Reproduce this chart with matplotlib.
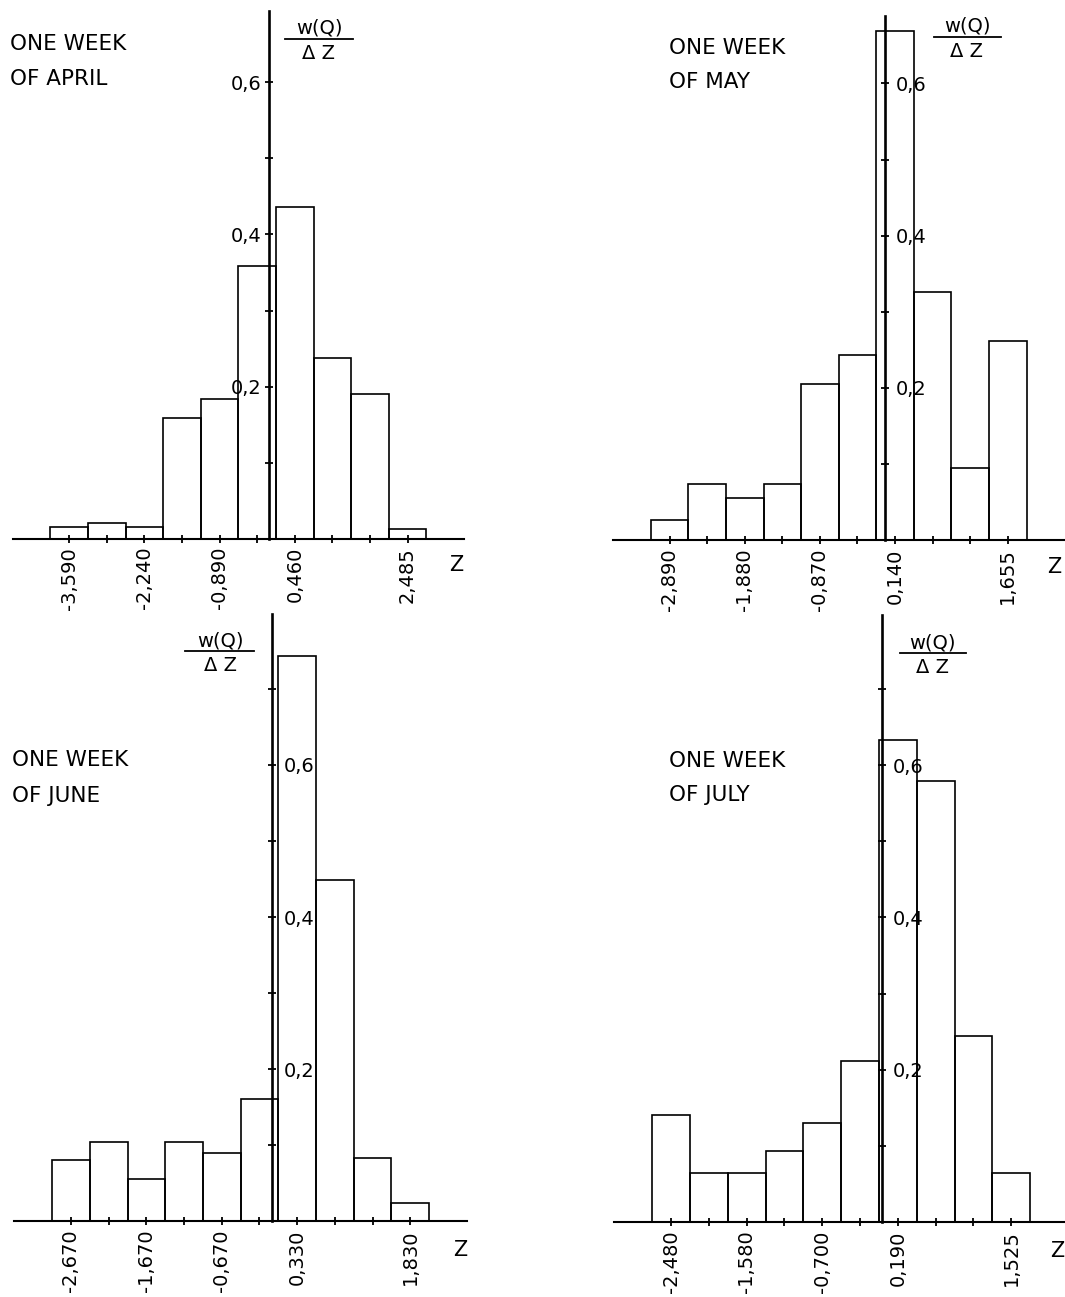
import matplotlib
matplotlib.use('Agg')
import matplotlib.pyplot as plt
from matplotlib.lines import Line2D
import numpy as np

# bin centres Z and heights w(Q)/dZ
april_z = [-3.590, -2.915, -2.240, -1.565, -0.890, -0.215, 0.460, 1.135, 1.810, 2.485]
april_w = [0.015, 0.021, 0.015, 0.158, 0.184, 0.358, 0.436, 0.238, 0.190, 0.012]
april_labels = ['-3,590', '', '-2,240', '', '-0,890', '', '0,460', '', '', '2,485']

may_z = [-2.890, -2.385, -1.880, -1.375, -0.870, -0.365, 0.140, 0.645, 1.150, 1.655]
may_w = [0.026, 0.073, 0.055, 0.073, 0.205, 0.243, 0.669, 0.326, 0.095, 0.262]
may_labels = ['-2,890', '', '-1,880', '', '-0,870', '', '0,140', '', '', '1,655']

june_z = [-2.670, -2.170, -1.670, -1.170, -0.670, -0.170, 0.330, 0.830, 1.330, 1.830]
june_w = [0.080, 0.104, 0.055, 0.104, 0.090, 0.161, 0.743, 0.449, 0.083, 0.024]
june_labels = ['-2,670', '', '-1,670', '', '-0,670', '', '0,330', '', '', '1,830']

july_z = [-2.480, -2.035, -1.590, -1.145, -0.700, -0.255, 0.190, 0.635, 1.080, 1.525]
july_w = [0.141, 0.064, 0.065, 0.094, 0.130, 0.212, 0.633, 0.579, 0.245, 0.065]
july_labels = ['-2,480', '', '-1,580', '', '-0,700', '', '0,190', '', '', '1,525']

y_major = [0.2, 0.4, 0.6]
y_major_labels = ['0,2', '0,4', '0,6']
y_minor_top = [0.1, 0.3, 0.5]
y_minor_bottom = [0.1, 0.3, 0.5, 0.7]

W, H = 1065, 1297
plt.rcParams['font.family'] = ['DejaVu Sans']

fig = plt.figure(figsize=(W / 100, H / 100), dpi=100)
fig.patch.set_facecolor('white')


def fx(x):
    return x / W


def fy(y):
    return 1 - y / H


# x0/sx: pixel of Z=0 and px per unit Z; y0/sy: pixel of w=0 and px per unit w
panels = [
    dict(z=april_z, w=april_w, labels=april_labels, minor=y_minor_top,
         title=('ONE WEEK', 'OF APRIL'), x0=269.2, sx=55.7, y0=538.5, sy=760,
         ytop=0.694, side='left', tx=10, ty=(50, 85),
         fr=(319, 285, 353, 39), zl=(456, 565)),
    dict(z=may_z, w=may_w, labels=may_labels, minor=y_minor_top,
         title=('ONE WEEK', 'OF MAY'), x0=884.6, sx=74.4, y0=540, sy=761,
         ytop=0.689, side='right', tx=669, ty=(54, 88),
         fr=(967, 934, 1001, 37), zl=(1054, 567)),
    dict(z=june_z, w=june_w, labels=june_labels, minor=y_minor_bottom,
         title=('ONE WEEK', 'OF JUNE'), x0=272.3, sx=75.4, y0=1221.3, sy=760.5,
         ytop=0.798, side='right', tx=12, ty=(766, 802),
         fr=(220, 185, 254, 651), zl=(460, 1250)),
    dict(z=july_z, w=july_w, labels=july_labels, minor=y_minor_bottom,
         title=('ONE WEEK', 'OF JULY'), x0=881.7, sx=84.9, y0=1222.2, sy=762,
         ytop=0.797, side='right', tx=669, ty=(767, 801),
         fr=(932, 900, 966, 653), zl=(1057, 1251)),
]

for p in panels:
    ax = fig.add_axes([0, 0, 1, 1])
    ax.patch.set_visible(False)
    ax.set_xlim(-p['x0'] / p['sx'], (W - p['x0']) / p['sx'])
    ax.set_ylim((p['y0'] - H) / p['sy'], p['y0'] / p['sy'])

    z = np.array(p['z'])
    dz = np.diff(z).mean()
    ax.bar(z, p['w'], width=dz, facecolor='none', edgecolor='black', linewidth=1.2)

    ax.spines['top'].set_visible(False)
    ax.spines['bottom'].set_position(('data', 0))
    ax.spines['bottom'].set_bounds(z[0] - 1.5 * dz, z[-1] + 1.5 * dz)
    ax.spines['bottom'].set_linewidth(1.5)
    if p['side'] == 'left':
        ax.spines['right'].set_visible(False)
        ysp = ax.spines['left']
        ax.yaxis.tick_left()
        ypad = 2.5
    else:
        ax.spines['left'].set_visible(False)
        ysp = ax.spines['right']
        ax.yaxis.tick_right()
        ypad = 5
    ysp.set_position(('data', 0))
    ysp.set_bounds(0, p['ytop'])
    ysp.set_linewidth(1.9)

    ax.set_xticks(z)
    ax.set_xticklabels(p['labels'], rotation=90, fontsize=14)
    ax.tick_params(axis='x', direction='inout', length=6, width=1.3, pad=3)

    ax.set_yticks(y_major)
    ax.set_yticklabels(y_major_labels, fontsize=14)
    ax.set_yticks(p['minor'], minor=True)
    ax.tick_params(axis='y', which='both', direction='inout', length=6, width=1.3, pad=ypad)

    # panel title, two lines
    fig.text(fx(p['tx']), fy(p['ty'][0]), p['title'][0], fontsize=15.5, va='baseline', ha='left')
    fig.text(fx(p['tx']), fy(p['ty'][1]), p['title'][1], fontsize=15.5, va='baseline', ha='left')

    # y label drawn as a fraction w(Q) / dZ
    cx, x1, x2, yb = p['fr']
    fig.text(fx(cx), fy(yb - 5), 'w(Q)', fontsize=14, ha='center', va='baseline')
    fig.add_artist(Line2D([fx(x1), fx(x2)], [fy(yb), fy(yb)], color='black', lw=1.3))
    fig.text(fx(cx), fy(yb + 5), 'Δ Z', fontsize=14, ha='center', va='top')

    fig.text(fx(p['zl'][0]), fy(p['zl'][1]), 'Z', fontsize=15, ha='center', va='center')

fig.savefig('out.png', dpi=100, facecolor='white')
